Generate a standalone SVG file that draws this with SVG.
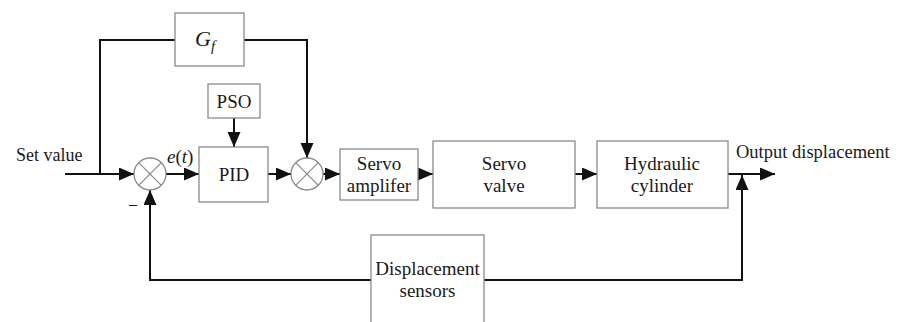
<svg xmlns="http://www.w3.org/2000/svg" width="899" height="322" viewBox="0 0 899 322" font-family="'Liberation Serif', 'Times New Roman', 'DejaVu Serif', serif">
  <style>
    .box { fill: #ffffff; stroke: #8a8a8a; stroke-width: 1.3; }
    .sum { fill: #ffffff; stroke: #8a8a8a; stroke-width: 1.3; }
    .x { stroke: #8a8a8a; stroke-width: 1.2; }
    .ln { fill: none; stroke: #111111; stroke-width: 2; }
    text { font-family: 'Liberation Serif', 'Times New Roman', 'DejaVu Serif', serif; font-size: 19px; fill: #1a1a1a; }
    .c { text-anchor: middle; }
    .it { font-style: italic; }
  </style>
  <defs>
    <marker id="ah" markerUnits="userSpaceOnUse" markerWidth="16" markerHeight="14" refX="15" refY="6.5" orient="auto">
      <polygon points="0,0 15,6.5 0,13" fill="#111111"/>
    </marker>
  </defs>

  <g id="connectors">
    <path class="ln" d="M65,174 H134" marker-end="url(#ah)"/>
    <path class="ln" d="M100,174 V40 H175"/>
    <path class="ln" d="M244,40 H307 V158" marker-end="url(#ah)"/>
    <path class="ln" d="M166,174 H199" marker-end="url(#ah)"/>
    <path class="ln" d="M234,118 V147" marker-end="url(#ah)"/>
    <path class="ln" d="M268,174 H291" marker-end="url(#ah)"/>
    <path class="ln" d="M323,174 H340" marker-end="url(#ah)"/>
    <path class="ln" d="M418,174 H433" marker-end="url(#ah)"/>
    <path class="ln" d="M575,174 H597" marker-end="url(#ah)"/>
    <path class="ln" d="M728,174 H775" marker-end="url(#ah)"/>
    <path class="ln" d="M484,280 H742 V175" marker-end="url(#ah)"/>
    <path class="ln" d="M371,280 H150 V190" marker-end="url(#ah)"/>
  </g>

  <g id="set-value-label">
    <text x="16" y="161" style="font-size:18px">Set value</text>
  </g>

  <g id="gf">
    <rect class="box" x="175" y="13" width="69" height="53"/>
    <text x="195" y="46" class="it" style="font-size:22px">G<tspan class="it" dy="5" style="font-size:15px">f</tspan></text>
  </g>

  <g id="sum1">
    <circle class="sum" cx="150" cy="174" r="16"/>
    <line class="x" x1="138.7" y1="162.7" x2="161.3" y2="185.3"/>
    <line class="x" x1="161.3" y1="162.7" x2="138.7" y2="185.3"/>
    <text x="129" y="209" style="font-size:16px">–</text>
  </g>

  <g id="et-label">
    <text x="167" y="163"><tspan class="it">e</tspan>(<tspan class="it">t</tspan>)</text>
  </g>

  <g id="pso">
    <rect class="box" x="208" y="84" width="52" height="34"/>
    <text x="234" y="108" class="c">PSO</text>
  </g>

  <g id="pid">
    <rect class="box" x="199" y="147" width="69" height="55"/>
    <text x="234" y="181" class="c">PID</text>
  </g>

  <g id="sum2">
    <circle class="sum" cx="307" cy="174" r="16"/>
    <line class="x" x1="295.7" y1="162.7" x2="318.3" y2="185.3"/>
    <line class="x" x1="318.3" y1="162.7" x2="295.7" y2="185.3"/>
  </g>

  <g id="servo-amplifier">
    <rect class="box" x="340" y="149" width="78" height="51"/>
    <text x="379" y="170" class="c">Servo</text>
    <text x="379" y="192" class="c">amplifer</text>
  </g>

  <g id="servo-valve">
    <rect class="box" x="433" y="141" width="142" height="67"/>
    <text x="504" y="170" class="c">Servo</text>
    <text x="504" y="192" class="c">valve</text>
  </g>

  <g id="hydraulic-cylinder">
    <rect class="box" x="597" y="141" width="131" height="67"/>
    <text x="662" y="170" class="c">Hydraulic</text>
    <text x="662" y="192" class="c">cylinder</text>
  </g>

  <g id="output-label">
    <text x="736" y="158" style="font-size:18.5px">Output displacement</text>
  </g>

  <g id="displacement-sensors">
    <rect class="box" x="371" y="235" width="113" height="100"/>
    <text x="427.5" y="275" class="c">Displacement</text>
    <text x="427.5" y="297" class="c">sensors</text>
  </g>
</svg>
